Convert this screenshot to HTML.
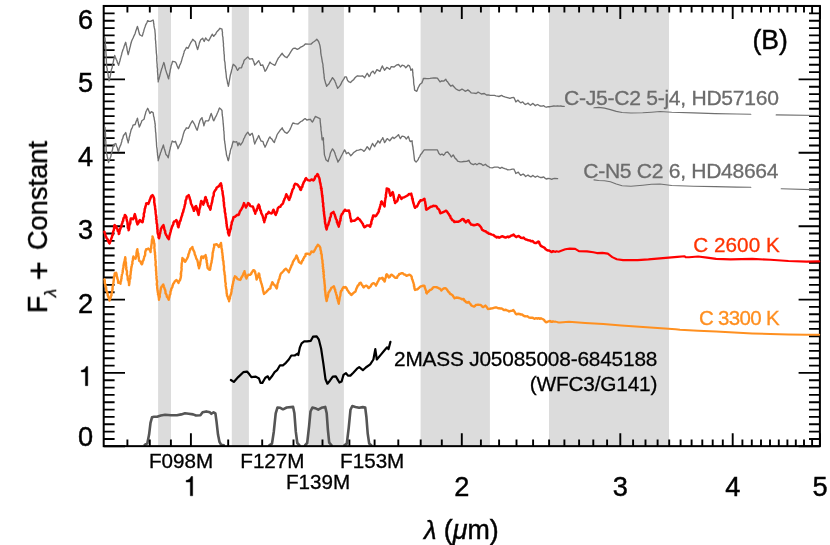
<!DOCTYPE html>
<html><head><meta charset="utf-8"><title>Spectra</title>
<style>html,body{margin:0;padding:0;background:#fff}body{width:830px;height:545px;overflow:hidden}</style></head>
<body>
<svg width="830" height="545" viewBox="0 0 830 545" style="display:block;font-family:'Liberation Sans',sans-serif">
<rect width="830" height="545" fill="#fff"/>
<rect x="158.1" y="5.95" width="12.9" height="440.2" fill="#dcdcdc"/>
<rect x="231.8" y="5.95" width="17.1" height="440.2" fill="#dcdcdc"/>
<rect x="308.3" y="5.95" width="35.6" height="440.2" fill="#dcdcdc"/>
<rect x="420.6" y="5.95" width="69.3" height="440.2" fill="#dcdcdc"/>
<rect x="549.0" y="5.95" width="120.0" height="440.2" fill="#dcdcdc"/>
<polyline points="144.7,444.9 147.3,443.4 149.1,434.6 150.5,422.9 152.0,417.3 154.2,416.7 157.1,416.7 160.8,415.5 165.2,414.8 171.1,415.2 176.9,415.2 181.3,414.4 185.0,413.3 188.7,413.8 193.1,414.4 196.0,415.5 200.4,415.2 202.6,412.3 206.3,411.4 209.9,412.3 211.4,413.8 213.6,412.3 215.4,413.3 216.5,421.4 218.0,434.6 219.5,441.9 221.2,444.9 223.9,445.3" fill="none" stroke="#555555" stroke-width="2.6" stroke-linejoin="round" stroke-linecap="round"/>
<polyline points="269.3,445.4 272.0,443.6 273.8,431.7 275.7,413.3 277.5,407.5 280.3,407.8 283.0,409.3 286.7,407.5 293.1,406.9 294.4,413.3 295.8,431.7 297.3,443.0 299.5,445.4" fill="none" stroke="#555555" stroke-width="2.6" stroke-linejoin="round" stroke-linecap="round"/>
<polyline points="305.0,445.4 307.2,443.0 309.1,426.2 310.5,411.5 312.4,407.5 315.1,408.2 318.2,409.7 321.5,407.8 325.2,406.9 326.7,413.3 327.9,429.8 329.2,442.7 331.6,445.4" fill="none" stroke="#555555" stroke-width="2.6" stroke-linejoin="round" stroke-linecap="round"/>
<polyline points="344.4,445.4 346.8,443.6 348.7,428.0 350.5,409.7 352.3,406.0 355.4,406.9 359.1,407.8 362.8,407.1 365.2,407.5 366.4,417.0 367.7,433.5 369.2,443.6 371.4,445.4" fill="none" stroke="#555555" stroke-width="2.6" stroke-linejoin="round" stroke-linecap="round"/>
<path d="M127.4,446.15v-6.6M127.4,5.95v6.6M149.8,446.15v-6.6M149.8,5.95v6.6M170.9,446.15v-6.6M170.9,5.95v6.6M190.9,446.15v-13M190.9,5.95v13M228.2,446.15v-6.6M228.2,5.95v6.6M262.2,446.15v-6.6M262.2,5.95v6.6M293.5,446.15v-6.6M293.5,5.95v6.6M322.5,446.15v-6.6M322.5,5.95v6.6M349.4,446.15v-6.6M349.4,5.95v6.6M374.6,446.15v-6.6M374.6,5.95v6.6M398.3,446.15v-6.6M398.3,5.95v6.6M420.7,446.15v-6.6M420.7,5.95v6.6M441.8,446.15v-6.6M441.8,5.95v6.6M461.8,446.15v-13M461.8,5.95v13M480.9,446.15v-6.6M480.9,5.95v6.6M499.1,446.15v-6.6M499.1,5.95v6.6M516.5,446.15v-6.6M516.5,5.95v6.6M533.1,446.15v-6.6M533.1,5.95v6.6M549.1,446.15v-6.6M549.1,5.95v6.6M564.4,446.15v-6.6M564.4,5.95v6.6M579.1,446.15v-6.6M579.1,5.95v6.6M593.3,446.15v-6.6M593.3,5.95v6.6M607.1,446.15v-6.6M607.1,5.95v6.6M620.3,446.15v-13M620.3,5.95v13M633.1,446.15v-6.6M633.1,5.95v6.6M645.5,446.15v-6.6M645.5,5.95v6.6M657.6,446.15v-6.6M657.6,5.95v6.6M669.2,446.15v-6.6M669.2,5.95v6.6M680.6,446.15v-6.6M680.6,5.95v6.6M691.6,446.15v-6.6M691.6,5.95v6.6M702.3,446.15v-6.6M702.3,5.95v6.6M712.7,446.15v-6.6M712.7,5.95v6.6M722.8,446.15v-6.6M722.8,5.95v6.6M732.7,446.15v-13M732.7,5.95v13M742.4,446.15v-6.6M742.4,5.95v6.6M751.8,446.15v-6.6M751.8,5.95v6.6M761.0,446.15v-6.6M761.0,5.95v6.6M770.0,446.15v-6.6M770.0,5.95v6.6M778.8,446.15v-6.6M778.8,5.95v6.6M787.4,446.15v-6.6M787.4,5.95v6.6M795.8,446.15v-6.6M795.8,5.95v6.6M804.0,446.15v-6.6M804.0,5.95v6.6M812.1,446.15v-6.6M812.1,5.95v6.6M820.0,446.15v-13M820.0,5.95v13M103.7,446.3h21.3M819.9,446.3h-21.3M103.7,439.0h10.9M819.9,439.0h-10.9M103.7,431.6h10.9M819.9,431.6h-10.9M103.7,424.3h10.9M819.9,424.3h-10.9M103.7,416.9h10.9M819.9,416.9h-10.9M103.7,409.6h10.9M819.9,409.6h-10.9M103.7,402.3h10.9M819.9,402.3h-10.9M103.7,394.9h10.9M819.9,394.9h-10.9M103.7,387.6h10.9M819.9,387.6h-10.9M103.7,380.3h10.9M819.9,380.3h-10.9M103.7,372.9h21.3M819.9,372.9h-21.3M103.7,365.6h10.9M819.9,365.6h-10.9M103.7,358.2h10.9M819.9,358.2h-10.9M103.7,350.9h10.9M819.9,350.9h-10.9M103.7,343.6h10.9M819.9,343.6h-10.9M103.7,336.2h10.9M819.9,336.2h-10.9M103.7,328.9h10.9M819.9,328.9h-10.9M103.7,321.6h10.9M819.9,321.6h-10.9M103.7,314.2h10.9M819.9,314.2h-10.9M103.7,306.9h10.9M819.9,306.9h-10.9M103.7,299.6h21.3M819.9,299.6h-21.3M103.7,292.2h10.9M819.9,292.2h-10.9M103.7,284.9h10.9M819.9,284.9h-10.9M103.7,277.5h10.9M819.9,277.5h-10.9M103.7,270.2h10.9M819.9,270.2h-10.9M103.7,262.9h10.9M819.9,262.9h-10.9M103.7,255.5h10.9M819.9,255.5h-10.9M103.7,248.2h10.9M819.9,248.2h-10.9M103.7,240.9h10.9M819.9,240.9h-10.9M103.7,233.5h10.9M819.9,233.5h-10.9M103.7,226.2h21.3M819.9,226.2h-21.3M103.7,218.8h10.9M819.9,218.8h-10.9M103.7,211.5h10.9M819.9,211.5h-10.9M103.7,204.2h10.9M819.9,204.2h-10.9M103.7,196.8h10.9M819.9,196.8h-10.9M103.7,189.5h10.9M819.9,189.5h-10.9M103.7,182.1h10.9M819.9,182.1h-10.9M103.7,174.8h10.9M819.9,174.8h-10.9M103.7,167.5h10.9M819.9,167.5h-10.9M103.7,160.1h10.9M819.9,160.1h-10.9M103.7,152.8h21.3M819.9,152.8h-21.3M103.7,145.5h10.9M819.9,145.5h-10.9M103.7,138.1h10.9M819.9,138.1h-10.9M103.7,130.8h10.9M819.9,130.8h-10.9M103.7,123.4h10.9M819.9,123.4h-10.9M103.7,116.1h10.9M819.9,116.1h-10.9M103.7,108.8h10.9M819.9,108.8h-10.9M103.7,101.4h10.9M819.9,101.4h-10.9M103.7,94.1h10.9M819.9,94.1h-10.9M103.7,86.8h10.9M819.9,86.8h-10.9M103.7,79.4h21.3M819.9,79.4h-21.3M103.7,72.1h10.9M819.9,72.1h-10.9M103.7,64.8h10.9M819.9,64.8h-10.9M103.7,57.4h10.9M819.9,57.4h-10.9M103.7,50.1h10.9M819.9,50.1h-10.9M103.7,42.7h10.9M819.9,42.7h-10.9M103.7,35.4h10.9M819.9,35.4h-10.9M103.7,28.1h10.9M819.9,28.1h-10.9M103.7,20.7h10.9M819.9,20.7h-10.9M103.7,13.4h10.9M819.9,13.4h-10.9M103.7,6.1h21.3M819.9,6.1h-21.3" stroke="#000" stroke-width="1.9" fill="none"/>
<rect x="103.7" y="5.95" width="716.2" height="440.2" fill="none" stroke="#000" stroke-width="2"/>
<polyline points="105.1,37.9 105.1,39.5 105.3,41.0 105.4,42.2 105.3,44.3 105.5,45.4 105.8,47.1 105.8,48.7 105.8,50.0 105.9,52.1 106.0,53.5 106.1,54.6 106.2,56.5 106.1,57.7 106.4,59.5 106.4,61.4 106.5,62.9 106.5,64.4 106.6,65.7 106.8,67.6 107.2,68.5 107.2,70.1 107.7,71.7 107.9,73.2 108.1,74.7 108.3,76.4 108.6,78.1 108.9,79.6 109.1,80.9 109.5,79.7 109.8,77.6 110.2,76.6 110.5,74.8 110.8,73.0 111.2,71.8 111.3,69.9 111.7,68.7 112.2,67.6 112.3,66.0 112.7,64.0 113.0,63.0 113.5,61.0 113.7,59.6 114.1,58.3 114.4,57.3 114.7,55.5 115.3,57.3 115.8,58.4 116.3,59.5 117.0,60.9 117.4,62.6 118.1,63.8 118.6,65.4 118.9,64.1 119.4,62.5 120.0,60.5 120.3,59.0 120.8,57.4 121.2,55.9 121.7,54.2 122.0,52.5 122.5,51.2 123.0,49.5 123.7,48.2 124.1,46.3 124.6,45.3 125.0,43.8 125.7,42.3 126.0,43.5 126.3,45.4 126.7,46.8 127.0,48.7 127.1,49.8 127.6,51.9 127.8,53.2 128.2,54.7 128.6,53.1 128.9,51.7 129.3,50.4 129.6,48.8 130.1,47.1 130.4,46.1 130.7,44.3 131.2,42.8 131.5,41.5 132.2,39.8 133.1,38.0 133.7,36.5 134.5,34.9 135.2,33.2 135.7,31.3 136.2,29.9 136.9,28.1 137.4,26.4 137.8,27.8 138.3,29.5 138.8,31.6 139.1,32.8 139.6,34.6 141.0,35.5 142.2,36.1 142.8,34.5 143.1,32.9 143.7,31.4 144.0,29.9 144.5,28.4 145.1,26.7 145.5,25.4 146.1,24.1 147.0,22.5 147.7,20.6 149.1,21.3 150.6,21.4 153.1,20.0 153.5,21.3 153.6,23.2 153.9,24.5 154.0,25.9 154.2,27.2 154.6,28.8 154.9,30.2 155.0,32.0 155.2,33.7 155.3,35.4 155.4,36.8 155.3,38.5 155.4,39.7 155.7,41.5 155.7,43.3 155.9,44.5 155.9,46.4 156.1,47.9 156.1,49.1 156.3,51.1 156.3,52.6 156.5,54.0 156.7,55.8 156.8,56.8 156.8,58.9 156.7,60.0 156.9,61.8 157.0,63.3 157.2,64.5 157.1,66.1 157.3,67.6 157.6,69.7 157.4,71.0 157.6,72.5 157.7,74.2 157.9,75.6 157.9,77.1 157.9,78.8 158.2,80.2 158.2,81.9 158.5,80.2 159.0,79.0 159.4,77.4 159.8,76.1 160.1,74.5 160.5,73.2 160.9,71.6 161.3,70.2 161.8,68.4 162.4,67.2 162.7,65.5 163.3,64.3 163.8,62.5 164.4,64.1 164.8,66.1 165.1,67.5 165.5,69.4 166.0,70.9 166.6,72.8 167.1,74.2 167.7,75.8 168.0,77.4 168.7,78.9 168.8,77.0 169.4,75.3 169.5,73.7 170.0,72.1 170.1,70.9 170.4,69.3 170.9,67.6 171.1,65.7 171.8,64.3 172.2,62.5 172.6,61.3 174.2,61.7 175.5,62.1 176.3,63.5 177.1,65.7 177.6,66.9 178.5,68.7 179.1,67.4 179.6,65.5 180.2,64.4 180.9,62.7 181.4,61.3 181.8,59.8 182.2,58.4 182.6,56.9 183.2,55.4 183.6,53.8 184.0,52.7 184.3,51.1 185.5,49.3 186.5,47.4 188.0,48.4 188.7,47.0 189.6,45.1 190.2,43.7 190.9,42.4 192.0,40.8 192.7,39.3 194.0,40.6 195.3,41.5 195.7,43.0 196.1,44.8 196.6,46.2 197.2,48.3 197.6,49.6 198.0,48.2 198.5,46.7 199.0,44.7 199.4,42.9 200.0,41.6 200.5,40.1 202.7,38.2 203.3,39.8 204.2,41.5 204.8,39.9 205.6,37.9 207.0,39.7 208.6,40.8 209.3,39.6 210.0,38.4 210.8,36.9 211.5,35.7 212.2,34.2 213.7,36.4 214.7,35.1 215.6,34.2 216.4,32.4 217.4,31.3 218.6,30.0 220.0,28.3 222.0,29.1 222.2,31.1 222.5,32.2 222.4,33.9 222.6,35.9 223.0,37.7 223.0,39.4 223.2,40.8 223.3,42.3 223.5,43.7 223.4,45.8 223.6,47.0 223.8,48.8 223.7,50.2 224.0,51.9 224.0,53.5 224.3,54.9 224.3,56.3 224.4,58.3 224.4,60.0 224.7,61.3 225.0,62.7 225.1,64.5 225.3,66.4 225.3,67.9 225.6,69.6 225.7,71.2 226.0,72.8 226.1,74.0 226.3,75.8 226.4,77.5 226.8,79.1 227.1,80.2 227.4,82.0 227.6,83.6 228.1,84.5 228.3,86.3 228.8,84.4 228.9,83.1 229.3,81.3 229.6,79.5 229.9,77.7 230.1,76.4 230.5,74.5 231.0,73.1 231.4,71.5 231.6,70.1 232.2,68.4 232.4,67.0 232.9,65.6 233.2,64.3 234.4,65.3 235.7,66.5 236.6,68.6 237.6,70.4 238.4,69.4 239.3,67.9 241.5,67.9 242.0,66.2 242.6,64.4 243.4,63.3 243.8,61.3 244.5,59.9 246.1,58.6 247.8,56.9 249.6,59.1 252.5,58.7 253.2,60.5 253.7,61.6 254.2,63.2 254.7,65.0 255.8,64.0 256.9,62.8 258.7,60.6 259.3,62.0 260.1,63.5 260.6,65.4 262.8,65.0 263.4,66.9 264.0,68.1 264.5,69.8 265.0,71.3 266.1,70.0 267.2,67.9 267.9,66.3 268.6,65.0 269.2,63.7 269.9,62.1 271.0,63.2 272.3,64.0 274.8,65.4 275.6,63.9 276.3,62.3 277.0,60.7 277.8,59.1 278.5,57.9 279.6,56.7 280.4,55.5 282.2,53.3 283.5,55.3 284.8,56.6 287.0,57.7 288.1,56.0 289.1,54.8 289.9,53.3 290.9,51.6 292.1,49.8 293.3,48.4 295.1,48.1 297.3,49.3 298.8,48.7 300.2,47.4 302.4,46.4 303.8,45.5 305.3,44.0 308.3,44.2 311.2,44.0 312.7,42.5 314.2,41.5 315.6,40.5 316.8,39.3 318.6,41.5 319.2,43.2 319.6,44.4 320.0,45.9 320.3,47.8 320.5,49.0 320.7,50.6 320.7,51.9 320.9,53.6 321.2,55.4 321.5,56.9 321.8,58.6 322.1,60.3 322.3,61.8 322.7,63.3 323.0,65.0 323.0,66.8 323.3,68.0 323.4,69.7 323.6,71.0 323.6,72.5 324.0,74.1 324.1,75.6 324.2,77.2 324.4,78.9 324.8,80.2 325.2,81.6 325.6,83.3 326.1,84.5 326.6,86.3 327.7,85.1 328.8,84.1 329.8,82.2 330.6,80.8 331.4,79.6 332.5,77.7 333.5,78.9 334.7,80.6 335.2,81.9 335.9,83.6 336.3,85.0 337.1,86.7 337.6,88.4 339.0,86.9 340.2,85.4 341.2,83.7 341.8,82.1 342.7,80.6 343.9,78.9 344.9,76.9 346.4,76.9 346.9,78.5 347.6,80.6 349.1,81.9 350.5,82.5 352.2,80.7 353.7,79.6 354.8,78.0 356.1,76.7 357.4,75.8 360.3,76.2 362.5,75.8 364.7,77.7 365.4,76.3 366.5,74.5 367.2,73.3 368.3,74.9 369.1,76.6 370.0,75.6 370.7,73.6 371.3,72.5 373.1,71.1 373.8,72.5 374.6,73.7 375.5,72.1 376.1,71.2 376.9,69.6 378.3,70.4 379.9,71.4 380.6,69.7 381.6,67.5 382.3,65.9 383.1,67.6 383.9,68.9 384.5,70.3 385.8,68.8 386.7,67.4 388.2,68.2 389.7,69.3 390.5,68.0 391.1,66.7 394.1,67.0 396.3,65.2 398.5,64.5 399.4,65.5 400.4,67.0 402.1,65.2 404.3,65.9 405.8,67.8 407.0,66.6 408.0,65.2 409.5,65.9 410.0,67.3 410.5,68.6 410.9,70.3 412.4,68.9 412.6,70.1 412.7,72.2 412.9,73.3 412.9,75.3 413.2,76.9 413.4,78.2 413.6,79.9 413.6,81.3 413.7,83.0 413.9,84.8 414.3,86.3 414.4,88.1 414.6,90.1 416.8,91.3 417.4,89.7 418.2,87.6 418.9,86.4 419.8,84.6 422.0,82.8 422.5,81.0 422.9,80.2 423.4,78.4 425.0,78.5 426.7,78.6 428.4,78.6 430.0,78.4 431.9,78.1 433.6,78.0 435.6,77.9 437.4,78.1 438.8,80.2 440.0,81.8 441.7,80.8 443.9,81.1 445.8,79.3 446.6,80.9 447.6,81.8 448.6,83.5 449.6,84.7 450.8,86.2 452.7,85.2 453.6,86.6 454.7,87.6 455.7,88.7 457.6,89.9 459.3,90.6 460.6,89.9 462.0,89.1 463.6,90.0 465.2,91.3 466.6,90.7 467.8,89.9 469.5,91.1 471.1,92.8 474.0,93.1 476.2,93.5 478.1,92.1 479.7,93.0 481.3,94.0 484.3,93.5 486.5,95.0 488.4,94.9 490.1,95.4 492.3,95.4 494.5,95.4 495.9,95.8 497.5,96.1 498.9,96.5 501.6,95.4 503.2,96.3 504.8,96.9 506.4,97.3 508.4,97.8 509.9,98.4 511.9,97.7 513.9,97.5 514.5,98.7 515.3,100.6 515.8,101.9 518.0,100.1 519.4,101.8 520.7,102.8 522.7,101.9 524.1,103.5 525.3,104.5 526.7,103.8 528.0,103.1 529.4,104.5 530.5,105.3 532.7,103.4 534.1,104.5 535.3,105.7 537.4,104.5 538.8,105.2 540.0,106.0 542.0,106.2 543.7,105.7 545.1,106.8 546.6,107.2 548.2,106.7 550.0,106.7 551.7,106.4 553.8,106.0 555.7,106.1 557.6,105.8 559.1,106.1 560.8,106.0 562.5,106.4 564.2,106.4" fill="none" stroke="#707070" stroke-width="1.35" stroke-linejoin="round" stroke-linecap="round"/>
<polyline points="594.0,107.8 598.7,107.4 604.5,108.1 610.4,109.6 616.3,111.4 622.1,112.5 630.9,113.0 642.7,112.8 651.5,112.2 660.0,111.5 671.7,112.3 693.4,112.9 715.1,113.6 736.7,114.0 750.8,114.2" fill="none" stroke="#707070" stroke-width="1.15" stroke-linejoin="round" stroke-linecap="round"/>
<polyline points="776.2,114.9 819.2,115.5" fill="none" stroke="#707070" stroke-width="1.15" stroke-linejoin="round" stroke-linecap="round"/>
<polyline points="105.1,127.4 105.1,128.6 105.2,130.2 105.2,131.9 105.5,133.7 105.5,134.8 105.5,136.3 105.5,137.7 105.6,139.8 105.8,141.2 105.9,142.3 105.8,144.1 106.0,145.8 106.1,146.8 106.1,148.7 106.1,149.9 106.2,151.6 106.5,152.9 107.0,155.0 107.2,156.2 107.6,157.9 107.9,159.7 108.2,161.0 108.5,162.6 109.2,160.9 109.7,159.2 110.5,157.3 111.0,156.0 111.2,154.5 111.7,152.8 112.1,151.0 112.6,149.3 112.8,147.6 113.2,146.0 113.5,144.6 115.8,143.5 116.3,145.3 116.8,146.8 117.5,148.1 117.7,149.8 118.3,151.6 118.9,150.2 119.2,148.6 119.7,147.2 120.2,145.9 120.9,144.6 121.3,142.8 121.8,141.7 122.0,139.7 122.7,138.6 123.0,137.3 123.5,135.5 124.6,134.2 125.7,132.5 126.0,133.8 126.4,135.2 126.7,137.3 127.0,138.1 127.3,139.6 127.9,141.2 128.2,142.8 128.4,141.1 129.0,139.8 129.1,138.1 129.4,136.7 129.9,135.2 130.0,134.0 130.4,132.9 130.8,131.1 131.2,129.6 132.0,128.1 132.6,126.7 133.0,125.2 135.2,124.5 135.7,122.8 136.2,121.3 136.8,120.0 137.4,118.2 137.8,119.6 137.9,120.9 138.3,122.4 138.6,124.3 138.9,125.2 139.3,127.0 140.1,125.5 140.7,123.8 141.3,122.5 141.8,120.8 144.0,119.3 144.4,118.0 144.7,116.1 145.0,115.2 145.5,113.8 145.8,112.0 146.7,110.3 147.7,108.3 148.5,110.1 149.2,111.8 149.9,113.5 151.3,111.7 153.1,112.7 153.4,114.4 153.6,116.2 154.0,117.2 154.3,119.3 154.5,120.3 154.8,121.9 155.0,123.7 155.3,125.4 155.1,126.7 155.4,128.5 155.5,130.4 155.5,131.3 155.8,132.9 155.9,134.5 156.0,136.6 156.1,138.0 156.2,139.3 156.3,141.0 156.5,142.9 156.5,144.3 156.6,145.8 156.7,146.9 157.0,148.7 157.2,150.3 157.2,151.6 157.5,153.3 157.5,155.0 157.8,155.9 157.9,157.6 158.2,159.1 158.2,160.7 158.6,159.2 159.2,157.4 159.4,156.2 160.1,154.6 160.4,153.1 161.0,151.7 161.7,149.5 162.3,148.0 162.7,146.9 163.4,145.0 163.8,146.8 164.2,148.4 164.6,149.5 165.1,151.3 165.6,153.2 166.0,154.5 167.2,155.8 168.2,157.8 168.5,156.3 168.8,154.9 169.2,152.9 169.4,152.0 169.7,150.4 170.2,148.8 170.4,147.2 170.9,145.7 171.2,144.4 171.7,142.9 172.2,141.0 174.1,142.1 175.5,141.3 176.0,143.1 176.6,144.4 177.0,145.5 177.6,147.1 178.0,148.7 178.8,147.0 179.3,145.5 180.2,144.1 180.9,142.7 181.4,141.3 181.9,139.8 182.3,138.1 182.6,137.2 183.0,135.6 183.4,133.9 183.9,132.5 184.6,130.6 185.6,129.6 186.3,127.8 188.3,128.4 189.3,126.7 190.2,124.5 191.4,122.4 192.4,120.8 193.5,122.6 194.6,124.5 195.3,126.2 195.9,127.7 196.4,129.0 197.1,130.3 197.6,128.9 198.0,127.4 198.4,125.9 198.8,124.1 199.4,122.5 199.8,120.8 200.8,119.0 202.0,117.6 202.3,119.3 202.9,121.2 203.1,122.5 203.6,124.1 203.9,125.9 204.4,123.9 204.9,122.5 205.6,120.8 208.6,120.8 209.1,119.4 209.6,118.2 210.2,116.2 210.5,115.3 211.2,113.5 211.8,115.2 212.2,116.3 212.6,117.7 213.1,119.6 213.7,120.8 214.5,119.5 215.1,117.7 215.8,116.7 216.6,114.9 217.1,113.7 217.8,112.2 218.5,110.5 219.0,109.1 219.5,107.9 220.7,108.9 222.0,110.5 222.1,111.9 222.2,114.2 222.4,115.8 222.7,117.3 222.8,119.1 223.0,120.6 223.1,122.2 223.2,123.7 223.4,125.4 223.5,126.7 223.7,128.5 223.6,129.9 224.0,131.6 224.0,133.5 224.2,134.8 224.2,136.5 224.3,138.4 224.4,140.1 224.7,141.3 224.8,142.8 225.2,144.9 225.3,146.3 225.5,148.1 225.7,149.8 226.1,151.4 226.3,153.2 226.4,154.5 226.9,156.3 227.5,157.7 227.7,159.2 228.3,160.7 228.8,159.1 229.0,158.0 229.3,155.9 229.6,154.5 230.0,153.3 230.2,151.9 230.5,150.1 231.0,148.6 231.5,147.5 232.0,146.0 232.3,144.4 232.8,142.8 233.2,141.3 235.2,142.1 236.7,141.6 237.4,143.6 237.9,145.7 238.3,144.4 239.0,142.8 240.5,145.0 241.5,143.6 242.6,142.1 243.3,140.3 243.8,138.6 244.6,137.6 245.2,135.8 246.6,133.7 247.8,132.2 249.0,134.1 249.9,135.5 251.1,134.0 252.2,133.3 252.7,134.9 253.0,136.0 253.4,137.5 253.7,139.1 254.0,141.2 254.5,142.7 254.7,144.0 255.4,142.3 256.2,140.4 256.9,139.1 257.8,137.6 258.7,135.5 259.4,137.1 259.8,138.4 260.5,139.8 261.0,141.0 262.8,141.3 263.3,142.6 263.8,144.5 264.6,145.6 265.0,147.2 265.7,145.8 266.3,144.7 266.8,143.1 267.5,141.6 268.2,140.1 268.9,138.3 269.9,136.9 270.8,138.3 271.9,139.1 273.0,141.0 274.3,142.5 274.7,141.4 275.2,139.4 275.8,138.6 276.4,137.1 276.9,135.2 277.5,134.0 278.3,132.8 279.4,131.3 280.1,130.3 281.1,129.3 282.2,127.8 282.8,129.5 283.7,130.5 284.5,131.8 287.0,133.3 288.0,132.3 288.9,131.1 289.9,129.6 290.6,128.1 291.3,126.5 292.1,124.5 292.9,123.0 295.1,123.7 298.0,124.0 299.4,122.7 300.9,121.5 302.3,120.9 303.7,119.5 305.1,118.6 306.8,120.1 308.8,119.5 310.5,119.3 311.4,121.0 312.4,122.0 313.3,120.7 314.0,118.9 314.7,117.9 315.3,116.4 317.8,117.6 320.0,118.6 320.2,120.4 320.2,121.5 320.4,123.2 320.6,124.8 320.7,126.5 321.0,128.0 320.9,129.1 321.1,130.7 321.4,132.3 321.5,134.0 321.8,135.9 321.9,138.1 322.2,139.9 323.2,137.7 323.5,139.0 323.4,141.1 323.5,141.9 323.6,144.0 323.8,145.6 323.9,146.6 323.9,148.6 324.1,149.7 324.2,151.5 324.3,153.0 324.4,154.5 324.8,155.9 325.5,158.1 325.9,159.7 328.1,161.6 328.5,159.8 328.9,158.6 329.4,157.1 329.9,155.6 330.1,154.1 330.6,152.5 331.5,150.8 332.5,148.9 333.6,150.4 334.7,152.5 335.2,154.3 335.6,155.4 336.2,157.2 336.8,158.8 337.4,160.3 337.9,162.1 338.7,160.7 339.7,159.5 340.5,157.7 341.5,155.8 342.3,154.3 343.2,152.5 343.9,151.1 344.6,149.9 345.6,151.6 346.4,153.7 348.2,152.5 349.5,153.9 350.8,155.8 352.0,154.6 353.0,153.3 354.4,152.0 355.5,151.4 356.7,150.3 358.6,150.1 360.8,149.3 362.5,150.0 364.0,151.4 365.2,150.0 366.2,148.3 367.2,146.7 368.3,148.0 369.6,149.9 370.3,148.5 371.0,146.7 371.7,145.2 372.5,143.4 373.7,145.3 374.6,146.7 375.4,145.1 376.1,143.8 377.2,142.5 377.9,140.8 379.9,143.0 380.5,141.6 381.2,140.2 382.2,138.8 382.8,137.6 383.5,139.6 384.0,140.7 384.5,142.6 385.5,141.5 386.4,139.6 387.2,138.6 388.3,139.6 389.7,140.8 390.7,139.5 391.5,138.5 392.6,137.1 394.1,138.6 396.3,136.7 397.4,135.8 398.5,134.6 399.4,136.7 400.4,138.6 401.3,137.1 402.1,136.1 404.3,136.7 405.3,137.6 406.3,139.0 407.2,137.9 408.3,136.4 408.9,138.0 409.5,139.9 410.2,141.5 412.1,140.8 412.2,142.6 412.4,144.5 412.7,146.0 413.0,147.5 413.1,149.1 413.5,150.9 413.6,152.5 413.8,154.0 414.0,155.5 414.2,157.5 414.4,159.1 414.6,160.6 416.1,162.1 418.0,159.9 418.8,157.9 419.8,156.6 420.5,154.7 421.6,153.6 422.7,151.8 424.2,149.9 426.1,149.8 428.0,149.8 430.0,149.9 431.8,149.8 433.6,149.9 435.5,149.8 437.4,149.9 438.1,151.5 438.8,153.3 440.3,154.9 442.0,154.0 443.5,155.2 444.8,153.9 445.8,152.3 447.9,152.0 448.8,153.5 449.8,154.5 451.3,157.0 453.2,154.9 454.1,156.4 455.2,158.4 456.5,159.4 457.6,161.1 460.1,161.8 461.8,161.9 463.7,161.5 466.7,161.4 468.9,160.3 469.8,162.1 471.1,163.7 473.3,164.7 475.5,163.7 476.9,164.7 479.1,163.3 481.3,164.0 483.1,165.5 485.4,164.3 487.5,166.2 488.8,166.7 490.1,167.7 492.3,167.8 494.5,167.2 496.3,167.1 498.2,167.2 500.1,168.4 501.9,167.2 503.3,168.1 504.8,168.7 506.2,169.0 507.7,169.9 510.4,169.6 512.2,169.1 513.9,169.1 514.4,170.3 515.3,172.0 515.8,173.5 518.3,172.1 519.5,173.8 520.7,175.4 523.1,174.0 524.5,175.1 525.6,176.5 528.0,175.0 529.4,176.1 530.9,176.9 532.7,175.4 533.9,176.2 535.3,177.2 537.4,176.0 538.9,176.8 540.3,177.5 542.0,177.5 543.7,176.9 544.9,178.1 546.2,179.0 548.1,178.5 550.0,178.7 551.7,179.3 553.2,178.7 554.7,178.4 557.6,178.6" fill="none" stroke="#707070" stroke-width="1.35" stroke-linejoin="round" stroke-linecap="round"/>
<polyline points="594.0,179.9 598.7,180.5 604.5,180.8 610.4,181.8 616.3,184.0 622.1,185.8 630.9,186.2 642.7,185.2 651.5,184.3 660.0,184.0 671.7,185.5 693.4,186.2 715.1,186.6 736.7,187.1 750.8,187.3" fill="none" stroke="#707070" stroke-width="1.15" stroke-linejoin="round" stroke-linecap="round"/>
<polyline points="781.2,188.8 819.2,189.9" fill="none" stroke="#707070" stroke-width="1.15" stroke-linejoin="round" stroke-linecap="round"/>
<polyline points="104.4,231.7 104.8,233.1 105.3,234.5 105.6,235.6 105.6,236.1 106.4,237.4 106.6,238.3 107.4,238.9 107.8,240.1 108.4,241.5 108.7,242.1 109.5,243.5 109.8,242.9 110.5,240.9 110.9,239.7 111.3,238.6 111.4,238.4 112.0,236.9 112.2,235.4 112.8,235.0 112.7,233.9 113.1,232.4 113.2,231.5 113.7,230.4 114.1,228.4 114.1,227.1 114.2,225.8 114.7,225.1 115.5,226.0 116.4,226.6 116.5,227.9 117.0,228.5 117.6,229.7 117.7,230.8 118.2,231.3 118.7,232.3 118.8,233.9 119.3,233.2 119.3,232.0 119.8,230.6 120.0,228.8 120.4,228.8 120.8,227.4 121.5,226.5 121.6,224.6 122.0,223.7 122.4,222.9 122.5,221.8 123.2,220.8 123.2,219.8 123.6,218.0 124.3,217.6 124.5,216.5 124.9,214.9 125.7,215.8 126.4,217.1 126.5,217.8 126.6,218.9 127.0,221.0 127.0,220.9 127.6,222.6 127.5,223.4 127.7,225.2 127.9,225.8 127.8,227.5 128.0,228.1 128.6,228.7 128.6,230.3 128.9,229.6 129.1,228.3 129.1,226.7 129.3,226.0 129.6,224.4 130.2,223.7 130.4,222.0 130.4,221.2 130.6,219.5 130.8,218.5 131.9,218.5 133.0,219.3 133.4,218.6 134.2,216.9 134.4,215.2 134.9,214.1 135.0,215.0 135.6,216.9 135.7,217.9 136.2,218.9 136.4,220.2 136.5,221.2 136.7,222.1 137.3,223.5 137.4,224.4 137.9,223.8 138.7,222.3 139.0,221.2 139.9,220.0 140.7,220.9 141.6,221.9 142.5,222.2 142.8,221.5 142.8,220.2 143.2,219.3 143.2,218.2 143.6,216.9 143.9,216.2 143.8,214.5 143.8,213.8 144.4,212.3 144.5,211.5 144.7,209.7 144.7,209.0 145.2,208.0 145.4,206.7 145.7,206.0 146.0,204.8 146.2,203.4 147.1,203.2 148.4,203.9 148.8,202.9 149.2,201.7 149.8,199.8 150.2,198.9 150.6,198.0 151.0,196.6 151.8,195.7 152.5,195.1 153.1,196.0 154.0,198.0 154.1,199.0 154.3,200.3 154.2,201.8 154.2,202.3 154.5,203.4 154.6,205.0 154.8,205.2 155.0,206.3 155.1,207.7 155.3,209.6 155.5,210.0 155.6,211.4 155.6,211.9 155.7,213.4 155.9,214.6 156.2,216.2 156.1,216.5 156.4,217.2 156.1,219.0 156.5,219.6 156.6,221.6 156.6,222.1 156.6,223.1 157.1,224.3 157.2,226.0 157.1,226.3 157.4,227.7 157.2,228.6 157.6,229.9 157.5,231.0 157.6,232.2 157.8,233.6 158.2,234.4 158.6,236.3 158.5,237.2 159.0,238.3 159.1,237.7 159.6,235.7 159.6,234.4 160.2,233.3 160.2,232.4 160.5,231.3 160.8,229.5 160.9,228.8 161.6,227.7 162.1,226.8 162.7,226.1 163.4,225.1 163.7,226.2 164.1,227.6 164.1,228.4 164.7,230.4 165.2,231.2 165.1,232.6 165.6,233.6 166.0,234.7 166.8,235.9 167.3,237.4 167.9,237.8 168.7,239.1 169.1,237.5 169.2,237.1 169.4,235.9 170.0,234.2 170.1,233.5 170.7,231.5 170.8,230.8 171.1,229.5 171.6,228.2 171.8,227.3 172.6,225.6 172.7,225.3 173.4,224.0 173.4,222.9 174.1,221.5 175.4,221.3 176.3,220.0 176.7,220.7 177.2,222.1 177.5,224.2 177.8,224.5 178.0,226.6 178.5,227.3 178.6,226.3 179.1,224.7 179.5,223.4 179.6,222.6 179.9,221.1 180.5,220.8 180.9,218.9 181.1,218.0 181.4,217.1 181.8,216.0 182.3,214.8 182.2,214.1 182.6,213.0 183.0,212.3 183.4,210.9 183.6,209.7 183.9,208.9 184.3,207.5 184.6,206.0 184.7,205.2 185.2,203.9 185.4,203.3 185.4,202.2 185.6,200.5 186.1,199.5 186.5,198.7 186.5,198.0 186.8,196.5 187.6,196.1 188.7,195.1 188.8,195.8 189.6,197.6 189.6,198.1 190.2,199.9 190.5,200.4 190.7,201.8 190.9,203.1 191.2,204.0 191.8,205.1 192.2,206.0 192.8,207.7 193.2,208.5 193.6,209.7 193.9,210.8 194.5,209.7 195.1,208.3 195.3,206.7 196.1,206.1 196.3,206.6 196.9,208.3 197.1,208.8 197.3,210.9 197.7,211.5 197.9,212.2 198.1,213.4 198.6,214.9 198.7,213.6 199.2,212.1 199.1,211.1 199.3,210.0 199.6,209.0 199.7,208.4 200.1,207.3 200.4,205.8 200.5,205.0 200.6,203.5 200.9,202.3 201.2,200.9 202.1,201.8 202.5,202.8 203.4,204.6 203.6,203.0 204.0,203.0 204.3,201.1 204.7,200.0 205.1,199.4 205.1,197.8 205.6,197.0 206.1,198.7 206.4,199.3 206.9,200.1 206.9,202.2 207.4,202.5 207.8,204.3 208.3,206.0 208.8,206.3 209.1,207.1 210.0,208.6 210.3,209.7 210.8,208.1 210.7,206.9 211.1,205.8 211.3,205.0 211.6,203.4 211.7,203.4 212.2,201.7 212.3,200.5 212.6,199.3 212.7,197.9 213.0,197.0 213.6,195.8 213.8,194.2 213.7,193.4 214.1,192.1 214.7,191.1 215.3,190.1 216.1,189.3 216.6,187.7 217.6,186.9 218.8,186.3 219.7,185.0 220.1,184.1 221.0,183.3 221.0,184.8 221.6,185.4 221.5,186.3 221.7,187.4 222.0,189.2 222.1,189.7 222.5,191.4 222.7,192.0 222.6,193.3 222.8,194.2 223.0,195.6 223.3,197.0 223.5,198.2 223.6,199.2 223.5,200.6 223.8,201.9 224.0,202.6 223.9,203.9 224.1,204.2 224.0,205.3 224.3,207.0 224.4,207.4 224.7,209.0 224.9,210.2 224.7,210.7 224.9,212.1 225.4,213.9 225.4,214.2 225.5,215.4 225.6,216.1 225.8,218.2 226.0,218.4 226.1,219.6 226.3,221.0 226.5,222.6 226.3,223.1 226.8,224.4 226.7,225.4 226.9,226.6 227.3,228.2 227.4,229.4 227.7,229.4 228.1,230.9 228.0,232.7 228.3,233.3 228.8,234.8 229.1,235.4 229.3,233.9 229.5,232.8 229.8,231.8 230.2,230.5 230.2,229.4 230.8,229.0 230.9,227.6 231.0,225.9 231.3,225.1 231.7,224.0 231.7,222.4 232.0,221.9 232.7,220.2 233.0,219.2 233.2,218.7 233.5,217.1 235.0,216.7 236.4,215.6 237.4,214.7 238.6,214.9 239.1,214.0 239.5,212.7 240.0,211.2 240.5,210.6 241.1,209.7 241.6,208.9 242.0,208.1 242.7,206.9 243.1,205.5 243.6,204.6 244.0,203.1 244.4,204.4 245.1,205.4 245.4,205.9 245.9,207.5 246.3,206.3 247.1,205.7 247.7,204.0 248.1,203.1 249.1,203.8 249.7,204.6 250.3,206.1 251.7,206.4 252.8,206.4 253.4,207.9 253.6,208.9 254.0,209.6 254.0,210.6 254.7,211.3 255.1,212.7 255.2,213.7 255.6,211.9 256.0,211.0 256.6,210.7 256.9,209.0 257.6,208.0 257.8,206.3 258.4,205.8 258.7,204.6 259.1,205.5 259.6,206.4 259.6,207.5 260.1,209.3 260.2,210.0 260.8,210.6 261.0,211.9 261.3,213.2 262.2,214.8 262.5,215.6 262.9,216.6 263.1,217.8 263.6,218.7 263.6,220.1 264.2,220.7 264.3,222.2 264.4,220.6 264.9,220.0 265.1,218.4 265.6,217.8 265.9,216.7 266.0,215.3 266.5,214.1 267.7,213.6 268.7,211.9 270.1,213.1 271.6,213.4 272.3,212.7 272.7,211.2 273.4,209.7 274.0,210.7 274.1,211.4 274.6,212.3 275.1,214.0 275.7,214.9 275.9,214.1 276.5,213.1 276.9,211.8 277.3,211.0 277.5,209.9 277.8,208.3 278.9,207.1 280.4,206.8 280.9,205.4 281.8,204.6 282.7,203.8 283.3,202.4 283.6,201.1 284.2,200.0 284.4,199.1 285.0,198.0 285.4,197.2 286.1,195.0 286.3,194.3 287.0,195.7 287.4,196.1 288.0,197.5 288.7,199.3 289.2,199.9 289.5,198.6 289.9,198.0 290.5,196.8 290.6,195.5 291.2,194.6 291.2,193.4 291.7,192.7 292.1,191.4 292.4,190.0 292.8,189.2 293.6,188.2 293.8,187.6 294.0,185.8 294.8,184.3 295.1,183.8 296.5,184.1 297.7,184.8 298.1,185.5 299.0,186.7 299.7,187.3 300.2,189.5 300.9,189.9 301.3,188.8 301.6,187.4 302.4,186.7 302.6,184.8 303.0,184.5 303.4,183.1 303.9,181.9 304.8,180.8 305.4,178.9 306.1,178.2 306.8,179.3 308.0,180.1 309.0,180.4 310.4,180.4 311.5,179.4 313.4,180.4 314.0,179.8 314.8,178.4 315.3,176.7 315.8,176.2 316.7,175.5 317.4,174.1 318.1,174.9 318.3,176.0 318.8,177.2 319.3,178.1 319.7,179.7 319.8,180.8 319.9,181.9 320.5,183.7 320.4,183.8 320.9,186.1 321.0,186.3 321.0,188.4 321.6,188.5 321.4,190.1 321.8,191.4 321.8,192.8 322.0,193.9 322.0,194.7 322.5,196.0 322.2,196.4 322.6,197.9 322.6,199.1 322.8,200.8 322.7,201.4 322.9,202.5 323.2,203.1 323.2,204.9 323.1,206.0 323.4,206.8 323.6,208.3 323.7,209.0 323.6,210.1 323.7,211.1 324.0,211.8 324.0,213.5 324.3,215.2 324.3,215.8 324.6,217.4 324.8,218.6 324.6,218.8 325.0,219.8 324.9,221.7 325.1,222.4 325.2,223.7 325.7,224.6 325.8,226.4 325.9,227.0 326.3,228.5 326.6,229.5 326.9,228.3 327.2,226.7 327.7,225.6 328.4,224.6 328.5,223.7 328.7,222.9 329.3,221.1 329.7,220.4 329.8,219.3 330.0,217.7 330.7,216.8 331.0,215.3 330.9,214.0 331.4,213.4 332.6,212.7 333.5,211.9 333.7,212.5 334.4,214.1 334.8,214.7 335.1,215.9 335.6,217.6 335.8,218.5 336.3,219.4 336.9,220.4 336.9,222.2 337.3,222.6 337.9,224.5 338.5,225.7 338.8,226.6 338.8,225.7 339.4,224.0 339.6,223.0 339.7,221.6 340.1,221.1 340.5,220.0 340.4,218.6 340.7,218.3 340.9,216.2 341.3,215.6 341.8,214.1 342.5,213.8 343.2,212.3 343.5,211.7 344.4,210.7 344.9,209.7 346.1,210.7 347.1,210.8 349.0,210.5 349.1,211.3 349.5,212.7 349.9,213.8 349.9,214.8 350.2,216.4 350.2,216.6 350.4,218.0 350.9,219.0 351.0,220.5 351.1,221.5 352.4,220.8 353.5,220.8 354.5,220.7 355.1,220.2 356.3,219.4 356.8,219.1 357.8,217.8 358.6,218.9 359.6,219.4 360.2,220.4 361.1,221.5 361.4,221.9 362.3,223.3 362.9,223.9 363.1,225.0 364.0,226.7 364.3,227.3 365.5,226.7 366.1,226.0 367.2,225.4 368.6,225.5 370.2,226.6 370.5,225.3 370.6,224.4 371.3,223.8 371.3,221.7 371.8,220.6 371.9,219.5 372.5,219.0 372.5,217.5 372.8,217.3 373.1,215.6 374.2,215.6 375.4,216.3 376.2,215.8 376.9,214.4 377.9,213.1 378.4,212.2 378.9,211.2 378.9,209.5 379.6,208.9 379.6,208.4 380.0,206.8 380.2,206.0 380.5,204.6 381.1,203.7 381.1,202.1 381.6,201.4 382.3,202.7 382.6,204.0 383.2,204.0 383.8,205.3 384.5,206.4 384.7,205.7 384.7,204.4 384.8,203.1 385.0,201.7 385.0,201.0 385.2,200.0 385.4,198.6 385.7,197.4 386.0,196.8 385.8,195.0 386.2,193.6 386.2,192.8 386.6,191.4 386.5,191.0 386.7,189.0 386.7,188.5 388.7,189.2 389.2,190.1 389.4,191.6 389.5,192.9 389.9,193.4 390.2,194.7 390.4,195.8 391.2,194.7 392.0,193.0 392.6,192.1 392.9,192.6 393.3,194.7 393.5,194.9 393.6,196.5 393.7,197.3 394.3,199.2 394.2,200.2 394.7,200.8 394.9,201.7 395.1,203.1 396.0,201.7 397.0,201.4 397.5,200.4 397.9,199.3 398.1,198.0 398.6,197.0 398.9,196.4 399.2,195.1 399.7,196.3 400.1,196.8 401.0,197.6 401.4,199.0 402.2,197.9 403.5,197.4 404.3,197.3 405.6,196.5 406.9,195.8 408.0,195.1 409.1,194.0 410.3,194.4 411.2,193.6 411.6,195.2 411.8,196.2 412.2,197.2 412.1,198.7 412.8,199.0 412.7,200.3 413.1,201.7 413.3,202.7 413.7,203.8 414.1,205.3 414.6,206.9 415.1,207.8 415.8,206.6 416.9,206.6 417.6,205.3 418.2,204.0 418.7,203.2 419.3,201.7 419.9,201.6 420.5,200.2 421.7,200.5 422.7,199.9 424.4,198.7 424.7,200.2 425.0,201.4 425.2,201.9 425.3,203.3 425.6,204.5 425.6,205.0 425.7,206.1 426.1,207.9 426.0,208.7 426.4,209.7 427.5,208.9 428.1,208.6 429.3,207.8 430.7,206.7 432.2,206.4 433.3,205.7 434.5,206.1 435.9,206.1 436.6,206.5 437.7,208.6 438.5,209.0 439.1,209.8 439.6,210.6 439.7,211.5 440.3,213.2 441.5,212.8 443.2,212.1 444.8,211.4 446.1,210.7 447.0,211.6 447.8,212.8 448.3,213.6 448.9,214.2 449.5,215.5 450.3,216.2 450.6,217.9 451.3,218.4 451.8,219.4 452.6,220.4 453.5,220.6 454.2,222.0 455.8,221.7 457.1,221.7 458.5,221.7 460.1,220.9 461.2,220.1 462.1,219.2 463.0,219.0 463.7,219.4 464.5,221.2 465.3,221.0 465.9,222.4 466.8,221.6 467.6,220.5 468.4,220.2 469.0,221.2 469.5,222.6 470.3,223.3 471.1,224.6 472.3,224.7 474.0,225.3 475.3,224.9 476.0,224.8 477.5,224.3 478.4,224.6 479.4,225.4 480.6,226.8 481.4,227.9 481.9,229.5 482.8,230.2 484.2,230.9 485.7,231.2 486.7,232.5 487.5,232.5 488.7,233.7 489.7,233.7 491.0,234.3 491.9,234.6 493.1,234.9 494.2,235.6 494.9,236.4 495.9,236.7 496.7,237.5 497.9,236.9 499.2,237.7 500.4,237.1 501.4,236.5 502.6,236.3 504.1,237.0 505.5,237.5 506.5,237.2 507.9,236.5 508.7,237.2 509.9,236.6 511.4,235.4 512.2,235.4 513.6,234.6 514.4,235.6 515.2,236.2 516.3,237.1 517.3,236.4 518.7,236.0 519.9,236.9 520.9,237.8 522.4,238.1 523.6,237.5 524.9,239.0 526.1,239.6 527.2,239.8 528.4,240.3 529.8,240.4 531.0,241.2 532.7,241.0 533.7,242.3 534.9,242.9 536.2,243.0 537.1,242.4 538.3,241.5 539.1,242.1 539.6,243.9 540.1,244.5 540.8,245.9 542.1,246.5 543.7,247.3 544.9,248.1 545.5,249.1 546.6,249.8 547.7,250.4 548.8,250.4 550.0,251.0 550.8,251.6 551.8,252.0 553.2,251.2" fill="none" stroke="#ff0000" stroke-width="2.5" stroke-linejoin="round" stroke-linecap="round"/><polyline points="553.2,251.2 554.2,251.6 555.4,251.9 556.6,251.2 557.5,251.5 558.6,251.8 559.9,251.3 565.3,249.3 569.8,248.6 575.2,248.9 578.9,251.1 587.0,251.4 593.3,252.2 596.9,253.1 602.4,252.9 607.8,253.6 612.3,257.1 616.8,259.2 623.1,260.1 637.6,260.1 648.4,259.4 662.9,258.1 677.4,256.9 684.6,256.3 685.4,257.1 689.0,257.2 698.1,256.5 707.1,257.6 716.1,258.9 730.6,259.4 752.3,258.9 770.4,259.8 788.4,261.0 806.5,261.6 819.2,261.4" fill="none" stroke="#ff0000" stroke-width="2.1" stroke-linejoin="round" stroke-linecap="round"/>
<polyline points="104.4,279.3 104.8,280.8 104.8,281.3 104.8,283.0 105.3,284.3 105.4,285.5 105.6,286.7 106.1,287.4 106.2,288.9 106.2,289.9 106.6,291.0 107.1,291.8 107.4,293.4 107.7,294.0 107.7,295.6 108.4,296.2 108.4,297.0 108.9,298.2 109.4,299.6 109.5,300.5 109.7,299.6 110.2,298.8 110.8,297.1 111.0,296.2 111.5,295.4 111.4,293.5 112.0,292.5 112.2,291.1 112.4,289.7 112.7,289.1 112.5,288.2 112.7,286.5 113.0,285.3 113.0,285.1 113.4,282.9 113.6,281.8 113.5,281.7 113.8,279.9 113.8,278.9 113.9,278.5 114.0,276.7 114.5,275.5 114.7,274.2 114.7,273.4 116.1,272.7 116.6,274.3 116.7,275.4 116.8,276.5 117.3,277.3 117.3,278.6 117.6,279.0 118.0,280.4 118.1,282.1 118.3,282.9 119.3,282.7 120.5,283.7 120.5,282.7 120.8,281.2 121.1,280.9 121.2,279.2 121.6,278.3 121.5,277.0 121.8,275.5 121.9,274.6 122.3,273.6 122.4,273.2 122.8,271.4 122.7,270.5 123.0,269.2 123.1,268.3 123.5,267.7 123.5,265.5 123.8,264.4 123.8,264.2 124.0,263.0 124.3,262.2 124.8,260.0 124.7,260.0 125.1,258.3 125.2,257.3 125.5,258.7 125.5,259.4 125.4,260.4 125.5,261.8 125.9,262.3 126.0,263.4 125.9,265.1 126.2,266.6 126.4,267.4 126.2,268.7 126.3,269.5 126.9,271.0 127.0,271.5 127.0,273.0 126.8,274.3 127.1,274.9 127.5,275.9 127.7,277.1 127.7,278.6 127.8,279.8 128.4,280.3 128.6,281.2 128.8,282.6 129.1,283.9 129.0,285.1 129.4,283.5 129.2,283.3 129.6,281.8 129.5,280.2 129.8,279.0 130.2,278.7 130.4,277.5 130.2,275.6 130.6,274.5 130.6,273.8 130.8,272.2 130.7,271.6 131.1,270.5 131.1,269.3 131.3,267.9 131.5,267.1 131.8,265.5 131.9,264.7 132.5,263.4 132.3,262.1 132.5,261.3 133.0,260.1 132.9,258.7 133.2,257.6 133.4,256.5 134.4,258.2 135.5,258.7 135.8,257.7 136.1,256.5 136.4,255.0 136.5,254.5 136.5,252.9 136.9,251.1 136.9,250.7 137.4,249.2 137.4,250.6 137.6,251.4 137.8,252.8 138.3,253.6 138.4,255.6 138.5,256.2 138.8,257.9 138.8,258.8 138.9,259.3 139.3,260.9 140.4,261.5 141.2,263.5 141.8,264.3 142.3,263.5 142.6,262.0 142.9,260.8 143.4,260.4 143.8,258.7 144.0,258.0 144.3,256.6 144.7,256.1 145.1,255.0 145.2,253.9 145.2,252.6 145.4,251.2 145.7,250.8 146.2,249.2 147.1,249.3 148.4,248.5 149.4,249.6 150.0,250.4 150.6,252.1 150.6,250.4 150.7,249.3 151.2,248.3 151.2,247.4 151.1,246.4 151.3,246.0 151.5,244.4 151.7,243.3 151.8,241.8 151.8,241.4 152.0,239.7 152.4,238.8 152.6,237.9 152.5,236.4 152.8,237.1 153.1,238.6 153.6,239.7 153.8,241.2 154.0,241.9 154.1,243.4 154.4,243.7 154.5,245.8 154.5,246.3 154.3,247.2 154.5,249.2 154.6,249.3 154.6,250.5 154.9,252.5 155.1,252.8 154.9,254.0 155.3,256.0 155.2,257.3 155.3,258.2 155.4,258.9 155.4,260.2 155.8,261.7 155.6,262.8 155.7,263.9 155.5,264.2 155.6,265.8 156.0,266.4 156.0,267.4 156.1,269.3 155.9,270.7 156.3,270.8 156.2,271.9 156.4,273.9 156.2,274.1 156.5,276.0 156.7,276.7 156.4,277.9 156.7,279.3 156.8,280.3 157.1,281.3 157.1,281.9 156.8,283.8 156.8,285.0 157.1,285.0 157.2,286.6 157.2,288.0 157.4,289.0 157.5,290.3 157.7,291.4 157.8,292.3 158.1,293.1 158.0,294.4 158.5,294.9 158.5,295.9 158.9,298.2 158.9,298.7 159.0,299.8 159.0,298.2 159.5,297.8 159.8,296.7 159.7,294.8 159.9,293.8 160.1,293.2 160.3,292.2 160.6,289.9 160.8,289.4 160.9,288.1 161.6,286.6 162.3,286.2 162.8,284.9 163.4,284.4 163.5,285.0 163.9,286.6 164.2,287.5 164.8,289.4 165.2,290.0 165.5,291.7 165.5,293.2 166.0,293.9 166.5,294.7 166.9,296.8 167.5,297.3 168.1,298.5 168.7,299.8 169.0,298.2 169.2,297.6 169.5,296.5 169.6,295.4 170.3,294.1 170.4,293.4 170.5,291.5 171.1,290.4 171.1,289.5 171.6,288.2 172.3,287.3 172.7,285.6 172.8,285.0 173.3,283.7 174.0,283.0 174.8,281.3 175.4,280.9 176.3,280.0 177.0,280.6 177.6,281.4 178.5,282.9 178.8,281.7 179.3,281.0 180.0,280.1 180.4,278.6 180.7,277.8 180.8,277.0 181.1,275.3 180.7,274.0 181.1,273.9 181.0,272.6 181.3,271.6 181.6,269.6 181.6,268.6 181.4,267.8 181.7,266.3 181.6,265.3 181.7,264.1 181.7,263.2 182.0,262.3 182.2,261.4 182.2,260.0 182.4,258.7 182.4,258.0 182.9,258.5 183.8,259.4 184.3,260.6 185.1,261.7 185.8,260.7 186.4,259.6 186.9,258.9 187.7,257.3 188.2,256.0 188.4,255.1 188.6,254.0 189.3,252.5 189.5,251.2 190.1,250.2 190.2,249.2 191.2,248.4 192.4,247.0 192.7,248.6 193.1,249.4 193.5,250.6 193.9,251.1 194.5,252.4 194.7,254.1 195.1,255.1 195.6,256.0 196.1,257.9 196.4,258.8 197.1,259.5 197.4,260.6 197.7,261.8 198.0,263.3 198.1,263.7 198.2,265.5 198.5,265.6 198.8,266.7 199.0,268.3 199.2,267.3 199.6,266.0 199.9,264.9 200.2,264.0 200.2,262.7 200.4,261.8 200.8,260.0 200.9,259.3 201.2,257.1 201.5,256.5 202.6,256.7 203.4,258.0 203.9,256.5 205.0,256.1 205.6,255.1 205.8,256.7 206.0,256.9 206.4,257.9 206.1,259.1 206.8,260.5 206.6,261.5 206.8,263.1 207.2,263.6 207.1,265.4 207.5,266.1 207.5,267.7 207.8,268.3 208.9,269.5 210.0,269.7 210.3,268.7 210.2,267.9 210.8,265.7 210.7,265.3 211.2,263.5 211.6,262.2 211.6,261.5 211.7,260.6 212.0,259.5 212.2,258.0 212.5,256.3 212.5,255.9 212.6,254.8 212.6,253.1 213.0,252.2 213.0,251.3 213.4,250.5 213.5,249.2 213.6,248.5 214.0,247.5 214.2,246.1 214.1,244.8 215.2,244.7 216.6,244.1 217.2,244.8 218.0,245.5 218.8,247.0 219.3,245.6 219.8,244.9 220.6,244.1 221.0,242.9 221.1,244.3 221.3,245.0 221.4,246.1 221.4,248.0 221.8,248.8 221.9,249.8 222.1,250.3 222.0,252.1 222.3,252.6 222.5,254.3 222.5,255.2 222.9,257.0 222.6,257.6 222.9,258.5 223.0,260.6 223.4,260.9 223.5,261.9 223.5,263.0 223.6,264.7 223.9,265.8 224.0,266.6 224.0,267.7 223.9,269.7 224.0,270.1 224.2,271.1 224.6,272.9 224.5,273.8 224.7,274.9 225.0,275.5 225.0,277.5 225.1,278.3 225.1,279.0 225.2,280.3 225.3,281.9 225.4,282.3 225.8,283.8 225.6,285.3 225.7,285.9 226.0,287.2 226.1,288.8 226.4,289.3 226.5,290.4 226.6,291.8 226.6,293.3 226.9,293.9 227.0,295.7 227.6,296.4 227.8,297.6 228.3,299.0 228.8,299.6 229.1,301.3 229.1,300.7 229.5,299.3 230.0,298.3 229.9,297.0 230.6,295.2 230.5,295.1 231.1,293.8 231.3,292.5 231.6,291.5 231.6,289.8 231.7,289.2 232.2,288.5 232.2,286.3 232.5,286.2 232.6,284.9 233.0,283.7 233.2,282.2 233.3,281.4 233.8,280.2 234.0,278.4 234.6,277.2 234.9,276.3 236.1,277.0 237.1,278.5 238.5,279.4 240.1,280.0 240.6,279.5 241.3,277.6 241.9,276.9 242.6,275.6 243.0,275.1 243.4,273.5 244.2,272.0 244.5,271.2 244.7,272.4 245.3,274.1 245.6,275.1 245.5,276.6 245.9,276.7 246.4,278.5 246.9,277.0 247.2,276.2 248.2,275.3 248.4,274.6 249.9,274.9 251.1,274.1 251.5,272.7 252.0,272.3 252.8,271.0 253.3,270.2 254.4,270.5 255.2,271.9 255.2,272.9 255.7,274.5 256.0,275.7 256.2,276.4 256.2,276.9 256.5,279.0 256.6,279.6 257.2,278.3 257.5,277.4 258.1,276.1 258.3,275.2 258.7,273.4 259.2,273.9 259.5,275.4 259.3,276.5 259.7,277.2 260.3,278.8 260.3,280.3 260.6,280.9 261.0,282.2 261.3,283.2 261.7,284.2 262.1,285.7 262.2,286.7 262.7,287.8 262.8,289.0 262.9,289.9 263.5,292.0 263.6,292.7 264.0,293.9 265.0,292.7 265.5,292.8 266.5,291.7 267.2,290.7 268.2,290.0 268.8,289.0 269.9,288.8 270.5,288.1 270.6,286.2 271.1,285.6 271.7,284.3 271.8,283.7 272.3,282.2 272.9,282.9 273.7,284.6 274.5,285.1 275.5,286.1 276.1,287.5 276.7,288.4 277.0,287.5 277.2,286.3 277.4,284.4 277.7,283.2 278.3,282.1 278.5,280.6 278.7,280.0 279.2,279.2 279.6,278.4 279.7,277.0 280.1,276.1 280.5,274.3 281.1,273.4 282.3,272.3 283.3,271.2 284.4,269.9 285.3,269.0 286.0,268.7 286.9,269.9 287.2,269.9 288.0,270.9 288.9,272.2 289.2,270.7 289.8,269.9 290.0,269.4 290.6,267.7 291.2,266.6 291.4,265.3 292.2,264.6 292.5,263.4 293.2,261.2 293.7,260.9 294.3,259.5 295.0,258.7 295.6,257.8 296.2,256.2 296.5,255.5 297.2,257.2 297.6,257.7 297.9,259.6 298.5,260.1 298.7,261.7 299.8,262.6 301.2,263.4 301.6,262.4 302.1,260.8 303.0,260.3 303.1,259.1 303.9,258.0 304.4,256.8 305.3,256.3 305.6,254.1 306.5,253.6 308.2,253.7 309.5,254.6 310.3,253.7 310.9,252.6 311.5,251.4 313.4,252.1 314.1,251.3 315.1,249.4 315.6,248.5 316.2,247.2 317.0,246.1 317.8,244.8 318.9,245.6 319.7,246.5 320.3,247.7 320.4,249.2 320.8,250.6 320.9,251.0 321.2,252.1 321.0,253.4 321.7,254.2 321.8,256.2 321.9,257.3 321.9,258.3 322.2,259.5 322.6,261.0 322.4,261.7 322.5,262.7 322.6,263.6 323.0,264.5 322.7,266.3 323.2,267.5 322.9,268.4 323.5,270.0 323.2,271.3 323.7,271.4 323.7,272.6 323.5,273.9 324.0,275.4 323.7,276.7 323.9,277.8 324.1,278.5 324.2,279.9 324.3,281.0 324.5,282.4 324.5,283.5 324.6,283.7 324.8,285.7 324.8,286.3 325.0,287.2 324.9,288.7 324.9,289.7 325.2,290.9 325.3,292.1 325.5,293.6 325.5,294.5 325.6,295.4 325.7,296.2 326.0,297.4 326.1,298.9 326.4,299.5 326.6,301.0 326.9,300.4 327.0,298.8 327.4,297.6 327.9,296.7 328.1,294.6 328.4,293.2 328.5,292.5 329.3,291.7 329.9,290.5 330.5,289.7 330.7,289.3 331.4,287.8 332.5,287.2 333.9,286.3 334.4,287.8 334.7,289.3 335.1,289.5 335.4,291.8 335.9,292.4 336.1,293.7 336.4,295.1 336.9,295.3 336.9,296.9 337.1,298.3 337.7,298.9 337.9,300.9 338.2,301.1 338.5,302.8 338.8,303.7 338.8,302.7 339.2,300.8 339.4,299.6 339.6,298.8 339.6,297.8 340.1,296.2 340.3,295.5 340.4,294.6 340.6,292.9 340.8,292.2 341.1,290.9 342.1,290.3 342.2,289.2 343.0,287.8 343.5,287.1 344.7,287.6 345.7,287.1 346.6,288.3 347.3,290.0 347.9,290.7 348.5,291.6 349.2,292.8 350.3,293.6 350.7,294.6 351.5,295.1 352.4,294.0 353.3,293.2 354.5,292.1 355.2,291.9 355.8,290.8 355.9,290.2 356.5,288.3 357.0,287.7 357.4,286.5 357.8,285.6 358.7,285.1 359.6,283.1 360.8,282.7 361.4,283.9 361.9,285.1 362.7,285.7 363.3,287.1 363.7,287.5 364.8,286.3 366.2,285.6 367.3,286.2 368.1,287.6 368.7,288.1 369.7,287.2 370.6,286.4 371.3,284.9 372.5,283.5 373.5,283.1 374.2,283.5 375.3,284.4 376.0,285.6 376.3,284.3 376.9,283.9 377.6,281.9 377.9,281.6 378.4,280.9 379.1,278.8 379.4,278.3 380.8,278.6 382.3,277.8 383.1,278.4 383.3,280.0 384.0,280.3 384.5,281.6 385.0,280.6 385.0,279.1 385.7,277.7 385.9,277.2 386.2,275.0 386.7,274.3 387.5,274.9 388.0,276.3 388.9,277.5 389.8,277.0 390.6,275.2 391.6,274.6 392.7,275.5 393.5,276.1 394.8,277.5 396.0,277.9 397.0,277.8 397.4,276.5 397.9,275.7 398.8,275.1 399.2,273.9 400.5,273.8 401.4,273.1 402.9,273.3 404.3,274.6 405.3,274.7 406.5,275.8 408.2,275.1 409.5,274.6 410.7,275.5 411.7,276.8 411.8,278.1 412.2,279.5 412.6,280.0 412.9,281.4 413.2,282.1 413.6,283.4 414.0,284.6 413.9,286.0 414.3,286.4 414.4,288.1 414.7,289.1 415.1,290.0 416.1,289.5 417.6,289.3 418.5,288.2 419.2,287.7 420.4,286.5 421.2,286.3 422.7,285.8 424.2,285.6 424.6,286.2 424.7,287.3 425.4,289.1 425.8,290.2 426.3,290.9 426.2,292.5 426.8,293.4 427.5,292.1 428.2,291.9 429.4,290.4 430.0,290.0 430.9,289.8 432.0,289.1 432.6,288.0 433.7,287.1 434.7,287.1 436.1,287.1 437.4,287.5 439.1,288.4 440.2,288.9 441.4,290.5 442.9,289.0 443.9,288.4 445.0,288.2 446.1,288.7 446.9,289.5 447.8,290.9 448.3,291.7 449.4,292.5 449.8,293.5 450.7,294.2 451.7,294.6 452.5,295.2 453.4,296.7 453.9,297.1 454.6,298.3 456.1,297.5 457.9,297.8 459.1,298.0 460.8,298.7 462.1,299.3 463.7,299.0 464.4,300.7 465.2,300.7 465.9,302.2 467.2,302.7 468.9,301.9 469.4,303.1 470.4,303.9 471.1,305.2 472.4,306.0 474.0,306.6 475.0,306.0 475.8,305.0 476.9,304.9 478.1,304.6 479.5,304.9 480.6,304.9 481.4,305.6 482.4,306.7 483.1,307.1 484.5,306.3 485.4,305.6 486.3,306.5 487.1,307.6 487.9,309.0 489.6,308.9 490.9,308.5 492.3,308.4 493.8,307.8 495.4,307.4 496.7,307.5 498.1,308.2 499.1,308.3 500.4,308.5 501.6,308.4 502.7,309.1 503.6,310.0 504.8,310.0 505.8,309.8 507.0,310.4 508.3,310.8 509.2,311.5 510.7,310.9 512.1,310.8 513.3,310.0 514.3,311.4 515.1,312.7 515.8,313.8 516.5,314.4 517.9,313.7 519.5,314.0 520.9,314.5 522.0,314.4 523.1,315.4 524.1,316.0 525.2,316.3 526.7,316.4 527.6,316.3 528.8,317.3 530.5,317.8 532.0,317.6 533.1,318.0 534.4,318.8 536.0,318.2 537.3,318.7 538.6,318.1 539.8,318.9 540.9,318.2 542.0,318.8 543.0,319.3 544.2,320.0 544.8,321.2 545.9,322.2 547.2,322.0 548.6,321.3 550.0,321.0 551.1,321.8 552.2,321.7" fill="none" stroke="#ff9020" stroke-width="2.4" stroke-linejoin="round" stroke-linecap="round"/><polyline points="552.2,321.7 553.4,321.3 554.2,321.8 555.5,321.6 556.6,321.9 557.7,322.2 559.0,322.6 559.9,322.5 568.9,321.8 585.2,322.9 603.3,324.0 621.3,325.4 639.4,326.7 657.5,328.0 675.6,329.2 680.0,329.8 698.1,330.7 716.1,331.6 734.2,332.5 752.3,333.4 770.4,333.9 788.4,334.5 806.5,334.8 819.2,334.8" fill="none" stroke="#ff9020" stroke-width="2.0" stroke-linejoin="round" stroke-linecap="round"/>
<polyline points="230.9,380.0 233.8,381.9 238.2,377.1 243.3,372.2 247.0,371.6 249.2,374.1 251.4,377.1 255.8,376.6 259.0,378.5 260.5,382.9 262.4,382.9 265.3,377.8 267.8,376.3 269.3,379.6 271.9,376.3 274.6,372.2 277.1,370.2 280.0,365.3 282.9,365.3 285.9,362.8 288.8,359.5 291.3,355.5 294.7,355.5 297.6,353.6 298.3,355.1 299.8,347.7 301.6,343.3 304.2,341.4 307.1,341.4 310.8,340.8 313.0,336.7 316.7,336.4 318.9,339.7 321.1,348.5 323.3,363.1 325.5,379.3 327.4,383.7 329.9,380.7 332.8,376.6 335.8,376.3 337.7,379.6 339.4,382.5 341.6,381.5 343.5,374.9 346.0,373.1 347.9,375.6 350.4,375.6 353.3,372.7 357.0,368.7 359.2,367.2 362.9,370.2 365.8,367.5 370.2,364.3 373.4,359.5 375.3,349.2 376.8,359.5 380.5,355.1 384.1,350.7 387.1,347.3 388.5,349.2 390.4,341.9" fill="none" stroke="#000" stroke-width="2.2" stroke-linejoin="round" stroke-linecap="round"/>
<g opacity="0.999">
<text x="93.0" y="29.3" font-size="27.2" fill="#000" stroke="#000" stroke-width="0.45" text-anchor="end">6</text>
<text x="93.0" y="91.6" font-size="27.2" fill="#000" stroke="#000" stroke-width="0.45" text-anchor="end">5</text>
<text x="93.0" y="166.0" font-size="27.2" fill="#000" stroke="#000" stroke-width="0.45" text-anchor="end">4</text>
<text x="93.0" y="239.0" font-size="27.2" fill="#000" stroke="#000" stroke-width="0.45" text-anchor="end">3</text>
<text x="93.0" y="312.6" font-size="27.2" fill="#000" stroke="#000" stroke-width="0.45" text-anchor="end">2</text>
<path d="M85.39,385.70L85.39,371.96L81.25,371.96L81.25,370.25C83.64,370.14 85.60,368.78 86.20,366.42L87.78,366.42L87.78,385.70Z" fill="#000" stroke="#000" stroke-width="0.45" stroke-linejoin="round"/>
<text x="93.0" y="446.1" font-size="27.2" fill="#000" stroke="#000" stroke-width="0.45" text-anchor="end">0</text>
<path d="M190.30,495.80L190.30,482.06L186.16,482.06L186.16,480.35C188.56,480.24 190.51,478.88 191.11,476.52L192.69,476.52L192.69,495.80Z" fill="#000" stroke="#000" stroke-width="0.45" stroke-linejoin="round"/>
<text x="461.8" y="495.8" font-size="27.2" fill="#000" stroke="#000" stroke-width="0.45" text-anchor="middle">2</text>
<text x="620.3" y="495.8" font-size="27.2" fill="#000" stroke="#000" stroke-width="0.45" text-anchor="middle">3</text>
<text x="732.7" y="495.8" font-size="27.2" fill="#000" stroke="#000" stroke-width="0.45" text-anchor="middle">4</text>
<text x="820.0" y="495.8" font-size="27.2" fill="#000" stroke="#000" stroke-width="0.45" text-anchor="middle">5</text>
<text x="461.3" y="538.5" font-size="26.8" fill="#000" stroke="#000" stroke-width="0.45" text-anchor="middle"><tspan font-style="italic" font-size="25.4">λ</tspan> (<tspan font-style="italic">μ</tspan>m)</text>
<g transform="translate(47.0,313.6) rotate(-90)"><text x="0.6" y="0" font-size="28.2" fill="#000" stroke="#000" stroke-width="0.45">F</text><text x="16.4" y="9.3" font-size="16.8" fill="#000" stroke="#000" stroke-width="0.3"><tspan font-style="italic">λ</tspan></text><text x="42.9" y="3.3" font-size="33" fill="#000" stroke="#000" stroke-width="0.3" text-anchor="middle">+</text><text x="63.4" y="0" font-size="28.2" fill="#000" stroke="#000" stroke-width="0.45" textLength="109.2" lengthAdjust="spacingAndGlyphs">Constant</text></g>
<text x="770.2" y="49.3" font-size="27.0" fill="#000" stroke="#000" stroke-width="0.45" text-anchor="middle" textLength="35.4" lengthAdjust="spacingAndGlyphs">(B)</text>
<text x="564.0" y="104.9" font-size="21.1" fill="#6c6c6c" stroke="#6c6c6c" stroke-width="0.3" textLength="214.9" lengthAdjust="spacing">C-J5-C2 5-j4, HD57160</text>
<text x="583.3" y="178.0" font-size="21.1" fill="#6c6c6c" stroke="#6c6c6c" stroke-width="0.3" textLength="195.2" lengthAdjust="spacing">C-N5 C2 6, HD48664</text>
<text x="693.2" y="251.7" font-size="20.7" fill="#ff3300" stroke="#ff3300" stroke-width="0.3" textLength="86.6" lengthAdjust="spacing">C 2600 K</text>
<text x="698.9" y="325.4" font-size="20.5" fill="#ff8f20" stroke="#ff8f20" stroke-width="0.3" textLength="80.9" lengthAdjust="spacing">C 3300 K</text>
<text x="394.0" y="365.7" font-size="20.8" fill="#000" stroke="#000" stroke-width="0.3" textLength="263.4" lengthAdjust="spacing">2MASS J05085008-6845188</text>
<text x="529.8" y="391.0" font-size="20.8" fill="#000" stroke="#000" stroke-width="0.3" textLength="127.6" lengthAdjust="spacing">(WFC3/G141)</text>
<text x="149.0" y="467.8" font-size="19.6" fill="#000" stroke="#000" stroke-width="0.3" textLength="64.2" lengthAdjust="spacingAndGlyphs">F098M</text>
<text x="240.3" y="467.8" font-size="19.6" fill="#000" stroke="#000" stroke-width="0.3" textLength="64.2" lengthAdjust="spacingAndGlyphs">F127M</text>
<text x="340.1" y="467.8" font-size="19.6" fill="#000" stroke="#000" stroke-width="0.3" textLength="64.2" lengthAdjust="spacingAndGlyphs">F153M</text>
<text x="286.0" y="489.4" font-size="19.6" fill="#000" stroke="#000" stroke-width="0.3" textLength="64.2" lengthAdjust="spacingAndGlyphs">F139M</text>
</g>
</svg>
</body></html>
